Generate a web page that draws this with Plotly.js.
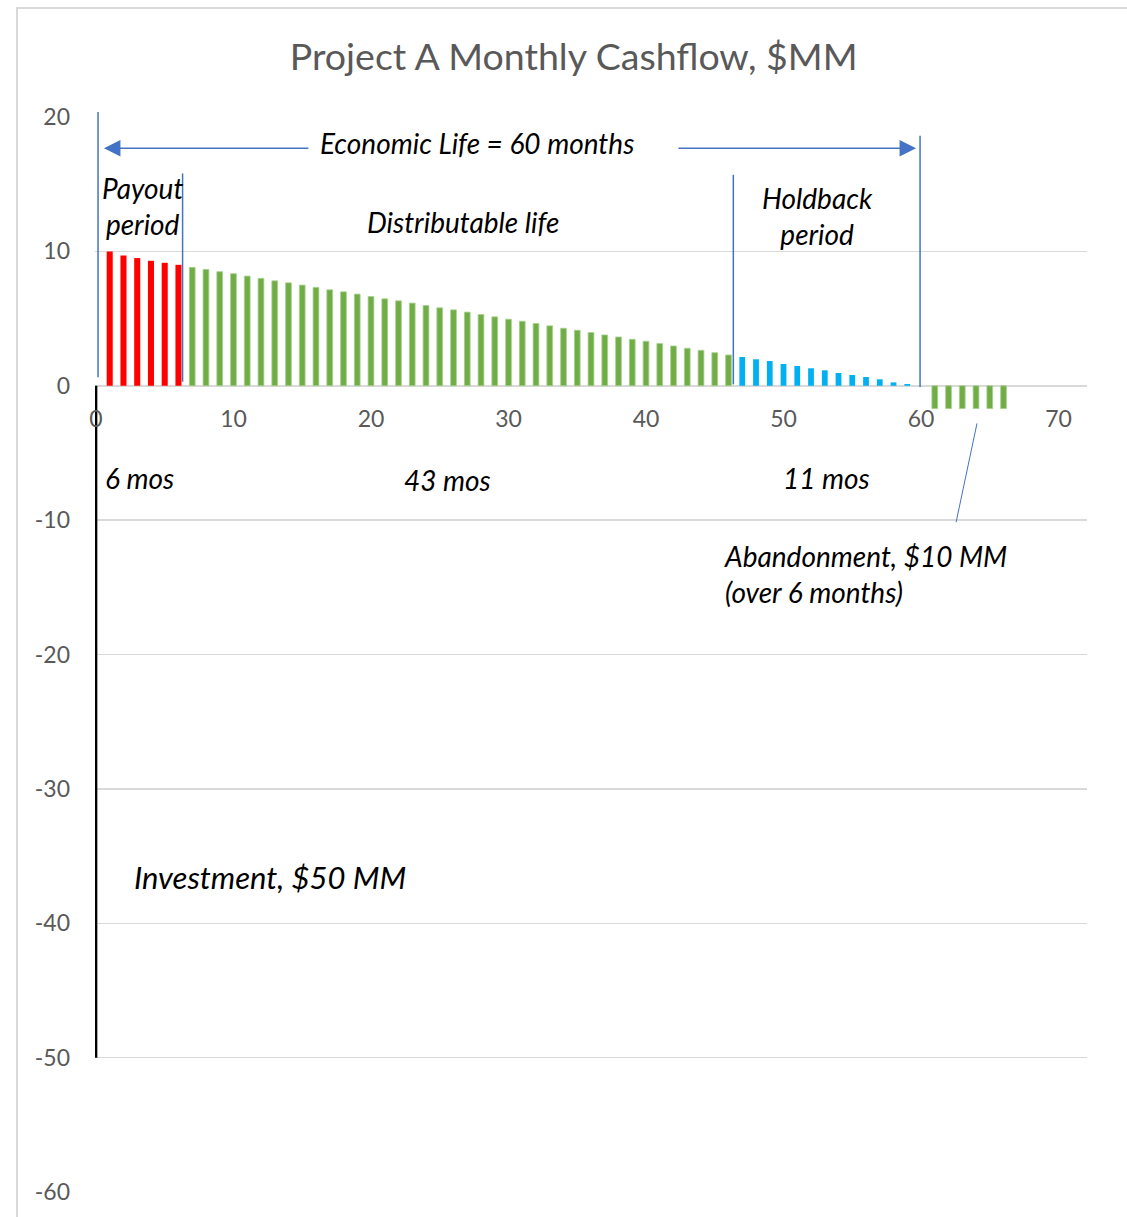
<!DOCTYPE html>
<html>
<head>
<meta charset="utf-8">
<script src="https://cdn.plot.ly/plotly-3.0.1.min.js"></script>
<style>html,body{margin:0;padding:0;background:#fff;}#chart{width:1127px;height:1217px;}</style>
</head>
<body>
<div id="chart"></div>
<script>
// ---- Data ----
const investMonth = [0];
const investValue = [-50];

const payoutMonths = [1, 2, 3, 4, 5, 6];
const payoutValues = [10.0, 9.7, 9.5, 9.3, 9.15, 9.0];

const distribMonths = [7, 8, 9, 10, 11, 12, 13, 14, 15, 16, 17, 18, 19, 20, 21, 22, 23, 24, 25, 26,
  27, 28, 29, 30, 31, 32, 33, 34, 35, 36, 37, 38, 39, 40, 41, 42, 43, 44, 45, 46];
const distribValues = [8.81, 8.66, 8.49, 8.34, 8.16, 7.99, 7.81, 7.66, 7.49, 7.32, 7.14, 6.99, 6.82, 6.64,
  6.47, 6.32, 6.15, 5.97, 5.80, 5.65, 5.48, 5.30, 5.13, 4.95, 4.80, 4.63, 4.46, 4.28, 4.13, 3.96,
  3.78, 3.63, 3.46, 3.31, 3.14, 2.96, 2.79, 2.64, 2.46, 2.29];

const holdbackMonths = [47, 48, 49, 50, 51, 52, 53, 54, 55, 56, 57, 58, 59];
const holdbackValues = [2.14, 1.97, 1.84, 1.62, 1.47, 1.30, 1.15, 0.95, 0.80, 0.65, 0.48, 0.25, 0.13];

const abandonMonths = [61, 62, 63, 64, 65, 66];
const abandonValues = [-1.7, -1.7, -1.7, -1.7, -1.7, -1.7];

const xTicks = [0, 10, 20, 30, 40, 50, 60, 70];
const yTicks = [-60, -50, -40, -30, -20, -10, 0, 10, 20];

const titleText = 'Project A Monthly Cashflow, $MM';

// ---- Styles ----
const FONT = 'Lato, "Open Sans", sans-serif';
const GRAY = '#595959';
const GRID = '#D9D9D9';
const BLUE = '#4472C4';
const GREEN = '#70AD47';
const GREEN_EDGE = '#A9D18E';

function barTrace(x, y, color, width, edge) {
  return {
    type: 'bar', x: x, y: y, width: width,
    marker: { color: color, line: { color: edge || color, width: edge ? 0.8 : 0 } },
    hoverinfo: 'x+y', showlegend: false
  };
}

const traces = [
  barTrace(investMonth, investValue, '#000000', 0.2),
  barTrace(payoutMonths, payoutValues, '#FF0000', 0.44),
  barTrace(distribMonths, distribValues, GREEN, 0.42, GREEN_EDGE),
  barTrace(holdbackMonths, holdbackValues, '#00B0F0', 0.42),
  barTrace(abandonMonths, abandonValues, GREEN, 0.42, GREEN_EDGE)
];

function txt(x, y, text, size, opts) {
  return Object.assign({
    x: x, y: y, xref: 'x', yref: 'y', text: '<i>' + text + '</i>', showarrow: false,
    font: { family: FONT, size: size, color: '#000000' }, xanchor: 'center', yanchor: 'middle', align: 'center'
  }, opts || {});
}
function arrow(xTip, xTail, y) {
  return {
    x: xTip, y: y, ax: xTail, ay: y, xref: 'x', yref: 'y', axref: 'x', ayref: 'y',
    text: '', showarrow: true, arrowhead: 2, arrowsize: 2.2, arrowwidth: 1.5, arrowcolor: BLUE, standoff: 0, startstandoff: 0
  };
}

const annotations = [
  arrow(0.58, 15.56, 17.68),
  arrow(59.64, 42.25, 17.68),
  txt(27.7, 18.1, 'Economic Life = 60 months', 28),
  txt(3.4, 13.4, 'Payout<br>period', 28),
  txt(26.7, 12.2, 'Distributable life', 28),
  txt(52.5, 12.6, 'Holdback<br>period', 28),
  txt(3.2, -6.9, '6 mos', 28),
  txt(25.6, -7.05, '43 mos', 28),
  txt(53.1, -6.9, '11 mos', 28),
  txt(45.5, -14.0, 'Abandonment, $10 MM<br>(over 6 months)', 28, { xanchor: 'left', align: 'left' }),
  txt(12.65, -36.55, 'Investment, $50 MM', 31)
];

const vline = (x, y0, y1, yref) => ({
  type: 'line', xref: 'x', yref: yref || 'y', x0: x, x1: x, y0: y0, y1: y1,
  line: { color: BLUE, width: 1.5 }, layer: 'above'
});

const shapes = [
  { type: 'rect', xref: 'paper', yref: 'paper', x0: -0.0786, x1: 1.06, y0: -0.04, y1: 1.1014,
    line: { color: GRID, width: 2 }, fillcolor: 'rgba(0,0,0,0)', layer: 'below' },
  vline(0.15, 0.758, 1.0046, 'paper'),
  vline(6.3, 0.3, 15.8),
  vline(46.35, 0.1, 15.7),
  vline(59.93, -0.1, 18.6),
  { type: 'line', xref: 'x', yref: 'y', x0: 64.07, y0: -2.8, x1: 62.55, y1: -10.16,
    line: { color: BLUE, width: 1 }, layer: 'above' }
];

const layout = {
  width: 1127, height: 1217,
  margin: { l: 95, r: 40, t: 117, b: 25, pad: 0 },
  paper_bgcolor: '#ffffff', plot_bgcolor: '#ffffff',
  barmode: 'overlay',
  showlegend: false,
  title: { text: titleText, x: 0.509, xref: 'container', xanchor: 'center', y: 1 - 57 / 1217, yref: 'container', yanchor: 'middle',
    font: { family: FONT, size: 37.5, color: GRAY } },
  xaxis: {
    range: [-0.07, 72.07], tickvals: xTicks, ticktext: xTicks.map(String),
    anchor: 'free', position: 0.75, showgrid: false, zeroline: false, showline: false, ticks: '',
    ticklabelstandoff: 17,
    tickfont: { family: FONT, size: 23, color: GRAY }
  },
  yaxis: {
    range: [-60, 20], tickvals: yTicks, ticktext: yTicks.map(String),
    showgrid: true, gridcolor: GRID, gridwidth: 1.5,
    zeroline: true, zerolinecolor: GRID, zerolinewidth: 1.5,
    showline: false, ticks: '', ticklabelstandoff: 24,
    tickfont: { family: FONT, size: 23, color: GRAY }
  },
  annotations: annotations,
  shapes: shapes
};

Plotly.newPlot('chart', traces, layout, { staticPlot: true, displayModeBar: false });
</script>
</body>
</html>
